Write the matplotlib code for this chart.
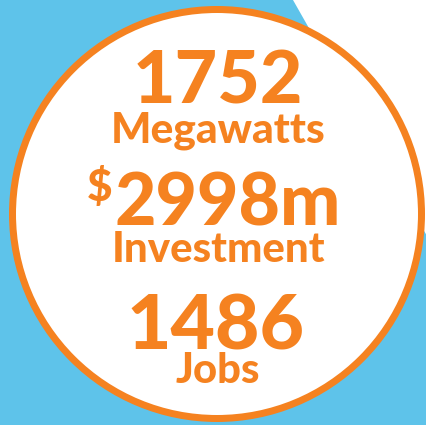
import matplotlib
matplotlib.use("Agg")
import matplotlib.pyplot as plt
from matplotlib.patches import Circle, Polygon, Rectangle

# ---- data ----
values = ["1752", "2998", "1486"]
labels = ["Megawatts", "Investment", "Jobs"]
prefix = "$"
suffix = "m"

ORANGE = "#F58220"
BLUE = "#5EC3EA"
FONT = ["Lato", "DejaVu Sans"]
CAP = 0.7165  # Lato cap height in em

W, H = 427, 425
fig = plt.figure(figsize=(W / 100, H / 100), dpi=100)
ax = fig.add_axes([0, 0, 1, 1])
ax.set_xlim(0, W)
ax.set_ylim(H, 0)
ax.axis("off")

ax.add_patch(Rectangle((0, 0), W, H, facecolor=BLUE, edgecolor="none", zorder=0))
ax.add_patch(Polygon([(293, 0), (W, 0), (W, 236)], closed=True,
                     facecolor="white", edgecolor="none", zorder=1))
ax.add_patch(Circle((217, 214), 204.5, facecolor="white", edgecolor=ORANGE,
                    linewidth=7 * 72 / 100, zorder=2))

renderer = fig.canvas.get_renderer()


def fit_text(s, x0, x1, baseline, cap_px):
    t = ax.text((x0 + x1) / 2, baseline, s, ha="center", va="baseline",
                color=ORANGE, fontsize=40, fontweight="black", family=FONT,
                zorder=3)
    w = t.get_window_extent(renderer).width
    fs_w = 40 * (x1 - x0) / w
    fs_h = cap_px / CAP * 72 / 100
    t.set_fontsize((fs_w * fs_h) ** 0.5)
    return t


texts = [
    (values[0], 133, 302, 103, 53),
    (labels[0], 102, 335, 143, 28),
    (labels[1], 100, 338, 262, 27),
    (values[2], 127, 305, 350, 55),
    (labels[2], 167, 268, 383, 25),
]
for s, x0, x1, b, c in texts:
    fit_text(s, x0, x1, b, c)

# "$" superscript + "2998m" as a centred group
main = fit_text(values[1] + suffix, 100, 357, 225, 45)
cur = fit_text(prefix, 70, 97, 201, 30)
wm = main.get_window_extent(renderer).width
wc = cur.get_window_extent(renderer).width
gap = 2
total = wm + wc + gap
left = 214 - total / 2
cur.set_ha("left")
cur.set_x(left)
main.set_ha("left")
main.set_x(left + wc + gap)

fig.savefig("out.png", dpi=100)
